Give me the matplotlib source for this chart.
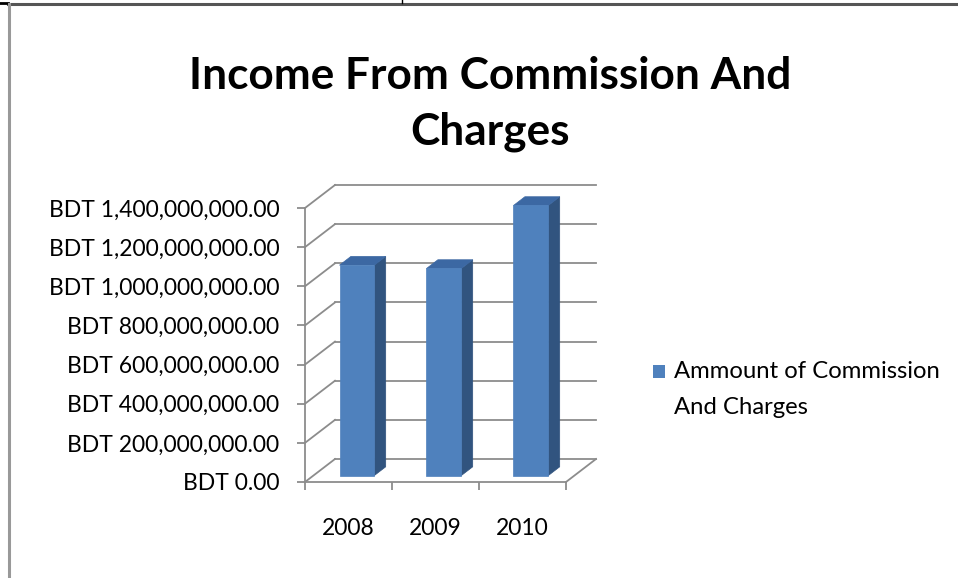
import matplotlib
matplotlib.use("Agg")
import matplotlib.pyplot as plt
from matplotlib.patches import Polygon, Rectangle
from matplotlib.lines import Line2D
from matplotlib.transforms import IdentityTransform

plt.rcParams['font.family'] = ['Lato', 'DejaVu Sans']

years = ["2008", "2009", "2010"]
amounts = [1075000000, 1058000000, 1380000000]
y_ticks = [0, 200000000, 400000000, 600000000, 800000000,
           1000000000, 1200000000, 1400000000]
series_name = "Ammount of Commission\nAnd Charges"

front_col = "#4F81BD"
top_col = "#3C68A3"
side_col = "#31547F"
grid_col = "#8C8C8C"

W, H = 958, 578
fig = plt.figure(figsize=(W / 100, H / 100), dpi=100)
fig.patch.set_facecolor("white")

# front plane of the 3-D box
ax = fig.add_axes([305 / W, (H - 482) / H, 261 / W, 274 / H])
ax.set_xlim(-0.5, len(years) - 0.5)
ax.set_ylim(0, y_ticks[-1])
ax.set_facecolor("none")
for side in ["top", "right"]:
    ax.spines[side].set_visible(False)
for side in ["left", "bottom"]:
    ax.spines[side].set_color(grid_col)
    ax.spines[side].set_linewidth(1.3)

ax.set_yticks(y_ticks)
ax.set_yticklabels(["BDT {:,.2f}".format(v) for v in y_ticks])
ax.tick_params(axis="y", length=5.5, width=1.3, color=grid_col, pad=13,
               labelsize=16.5, labelcolor="black")
ax.set_xticks([i - 0.5 for i in range(len(years) + 1)])
ax.set_xticklabels([])
ax.set_xticks(range(len(years)), minor=True)
ax.set_xticklabels(years, minor=True)
ax.tick_params(axis="x", which="major", length=6, width=1.3, color=grid_col)
ax.tick_params(axis="x", which="minor", length=0, pad=26, labelsize=16.5)

# depth direction in pixels (right, up)
DX, DY = 30, 23


def proj(x, v, d):
    px, py = ax.transData.transform((x, v))
    return (px + DX * d, py + DY * d)


def seg(p0, p1, **kw):
    ax.add_line(Line2D([p0[0], p1[0]], [p0[1], p1[1]], transform=IdentityTransform(),
                       clip_on=False, color=grid_col, lw=1.3, **kw))


x0, x1 = -0.5, len(years) - 0.5
for v in y_ticks:
    # back wall gridline and side wall diagonal
    seg(proj(x0, v, 1), proj(x1, v, 1))
    seg(proj(x0, v, 0), proj(x0, v, 1))
# floor right edge
seg(proj(x1, 0, 0), proj(x1, 0, 1))

d0, d1 = 0.28, 0.66
hw = 0.2
for i, val in enumerate(amounts):
    front = [proj(i - hw, 0, d0), proj(i + hw, 0, d0), proj(i + hw, val, d0), proj(i - hw, val, d0)]
    top = [proj(i - hw, val, d0), proj(i + hw, val, d0), proj(i + hw, val, d1), proj(i - hw, val, d1)]
    side = [proj(i + hw, 0, d0), proj(i + hw, val, d0), proj(i + hw, val, d1), proj(i + hw, 0, d1)]
    for pts, c in [(side, side_col), (top, top_col), (front, front_col)]:
        ax.add_patch(Polygon(pts, closed=True, transform=IdentityTransform(), clip_on=False,
                             facecolor=c, edgecolor=c, lw=0.5, zorder=3))

fig.text(490 / W, 1 - 76 / H, "Income From Commission And", ha="center", va="center",
         fontsize=31.8, fontweight="bold")
fig.text(490 / W, 1 - 132 / H, "Charges", ha="center", va="center",
         fontsize=31.8, fontweight="bold")

# legend
fig.add_artist(Rectangle((653 / W, 1 - 378 / H), 12 / W, 13 / H, transform=fig.transFigure,
                         facecolor=front_col, edgecolor="none"))
fig.text(674 / W, 1 - 372 / H, series_name.split("\n")[0], ha="left", va="center",
         fontsize=17.2)
fig.text(674 / W, 1 - 408 / H, series_name.split("\n")[1], ha="left", va="center",
         fontsize=17.2)

# surrounding table border
fig.add_artist(Line2D([8 / W, 1], [1 - 4 / H, 1 - 4 / H], transform=fig.transFigure,
                      color="#555555", lw=2.2))
fig.add_artist(Line2D([0, 8 / W], [1 - 3 / H, 1 - 3 / H], transform=fig.transFigure,
                      color="black", lw=2))
fig.add_artist(Line2D([8.5 / W, 8.5 / W], [0, 1 - 4 / H], transform=fig.transFigure,
                      color="#999999", lw=2.2))
fig.add_artist(Line2D([402 / W, 402 / W], [1 - 3 / H, 1], transform=fig.transFigure,
                      color="black", lw=1))

fig.savefig("out.png", dpi=100)
